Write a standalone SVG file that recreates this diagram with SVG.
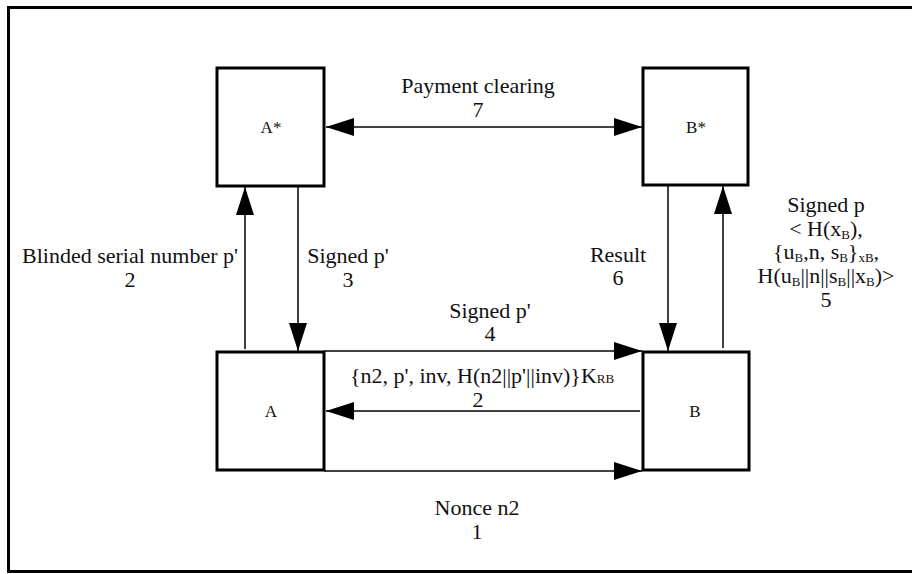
<svg xmlns="http://www.w3.org/2000/svg" width="912" height="574" viewBox="0 0 912 574">
  <style>
    .frame { fill: #fff; stroke: #000; stroke-width: 3; }
    .box { fill: #fff; stroke: #000; stroke-width: 3; }
    .conn { fill: none; stroke: #000; stroke-width: 1.5; }
    text { font-family: "Liberation Serif", "DejaVu Serif", serif; fill: #111; text-anchor: middle; }
    .lbl { font-size: 22px; }
    .name { font-size: 17px; }
    .sub { font-size: 13px; }
  </style>
  <defs>
    <marker id="head" markerUnits="userSpaceOnUse" markerWidth="28" markerHeight="18" refX="28" refY="9" orient="auto-start-reverse">
      <path d="M0,0 L28,9 L0,18 z" fill="#000"/>
    </marker>
  </defs>

  <rect class="frame" x="8.5" y="7.5" width="920" height="564"/>

  <!-- connectors -->
  <g id="connectors">
    <line class="conn" x1="326" y1="127" x2="642" y2="127" marker-start="url(#head)" marker-end="url(#head)"/>
    <line class="conn" x1="245" y1="349" x2="245" y2="187" marker-end="url(#head)"/>
    <line class="conn" x1="298" y1="187" x2="298" y2="351" marker-end="url(#head)"/>
    <line class="conn" x1="668" y1="186" x2="668" y2="351" marker-end="url(#head)"/>
    <line class="conn" x1="723" y1="348" x2="723" y2="186" marker-end="url(#head)"/>
    <line class="conn" x1="324" y1="351" x2="642" y2="351" marker-end="url(#head)"/>
    <line class="conn" x1="640" y1="411" x2="326" y2="411" marker-end="url(#head)"/>
    <line class="conn" x1="324" y1="471" x2="642" y2="471" marker-end="url(#head)"/>
  </g>

  <!-- nodes -->
  <g id="node-astar">
    <rect class="box" x="217" y="68" width="107" height="118"/>
    <text class="name" x="271" y="133" font-family="Liberation Serif, DejaVu Serif, serif">A*</text>
  </g>
  <g id="node-bstar">
    <rect class="box" x="643" y="68" width="105" height="117"/>
    <text class="name" x="696" y="133" font-family="Liberation Serif, DejaVu Serif, serif">B*</text>
  </g>
  <g id="node-a">
    <rect class="box" x="217" y="352" width="107" height="118"/>
    <text class="name" x="271" y="417" font-family="Liberation Serif, DejaVu Serif, serif">A</text>
  </g>
  <g id="node-b">
    <rect class="box" x="643" y="352" width="106" height="118"/>
    <text class="name" x="695" y="417" font-family="Liberation Serif, DejaVu Serif, serif">B</text>
  </g>

  <!-- connector labels -->
  <g id="labels" font-family="Liberation Serif, DejaVu Serif, serif">
    <text class="lbl" x="478" y="93">Payment clearing</text>
    <text class="lbl" x="478" y="117">7</text>

    <text class="lbl" x="130" y="263">Blinded serial number p'</text>
    <text class="lbl" x="130" y="287">2</text>

    <text class="lbl" x="348" y="263">Signed p'</text>
    <text class="lbl" x="348" y="287">3</text>

    <text class="lbl" x="618" y="262">Result</text>
    <text class="lbl" x="618" y="285">6</text>

    <text class="lbl" x="826" y="212">Signed p</text>
    <text class="lbl" x="826" y="236">&lt; H(x<tspan class="sub" dy="3">B</tspan><tspan dy="-3">),</tspan></text>
    <text class="lbl" x="826" y="259">{u<tspan class="sub" dy="3">B</tspan><tspan dy="-3">,n, s</tspan><tspan class="sub" dy="3">B</tspan><tspan dy="-3">}</tspan><tspan class="sub" dy="3">xB</tspan><tspan dy="-3">,</tspan></text>
    <text class="lbl" x="826" y="283">H(u<tspan class="sub" dy="3">B</tspan><tspan dy="-3">||n||s</tspan><tspan class="sub" dy="3">B</tspan><tspan dy="-3">||x</tspan><tspan class="sub" dy="3">B</tspan><tspan dy="-3">)&gt;</tspan></text>
    <text class="lbl" x="826" y="307">5</text>

    <text class="lbl" x="490" y="318">Signed p'</text>
    <text class="lbl" x="490" y="341">4</text>

    <text class="lbl" x="482" y="383">{n2, p', inv, H(n2||p'||inv)}K<tspan class="sub">RB</tspan></text>
    <text class="lbl" x="478" y="407">2</text>

    <text class="lbl" x="477" y="515">Nonce n2</text>
    <text class="lbl" x="477" y="539">1</text>
  </g>
</svg>
